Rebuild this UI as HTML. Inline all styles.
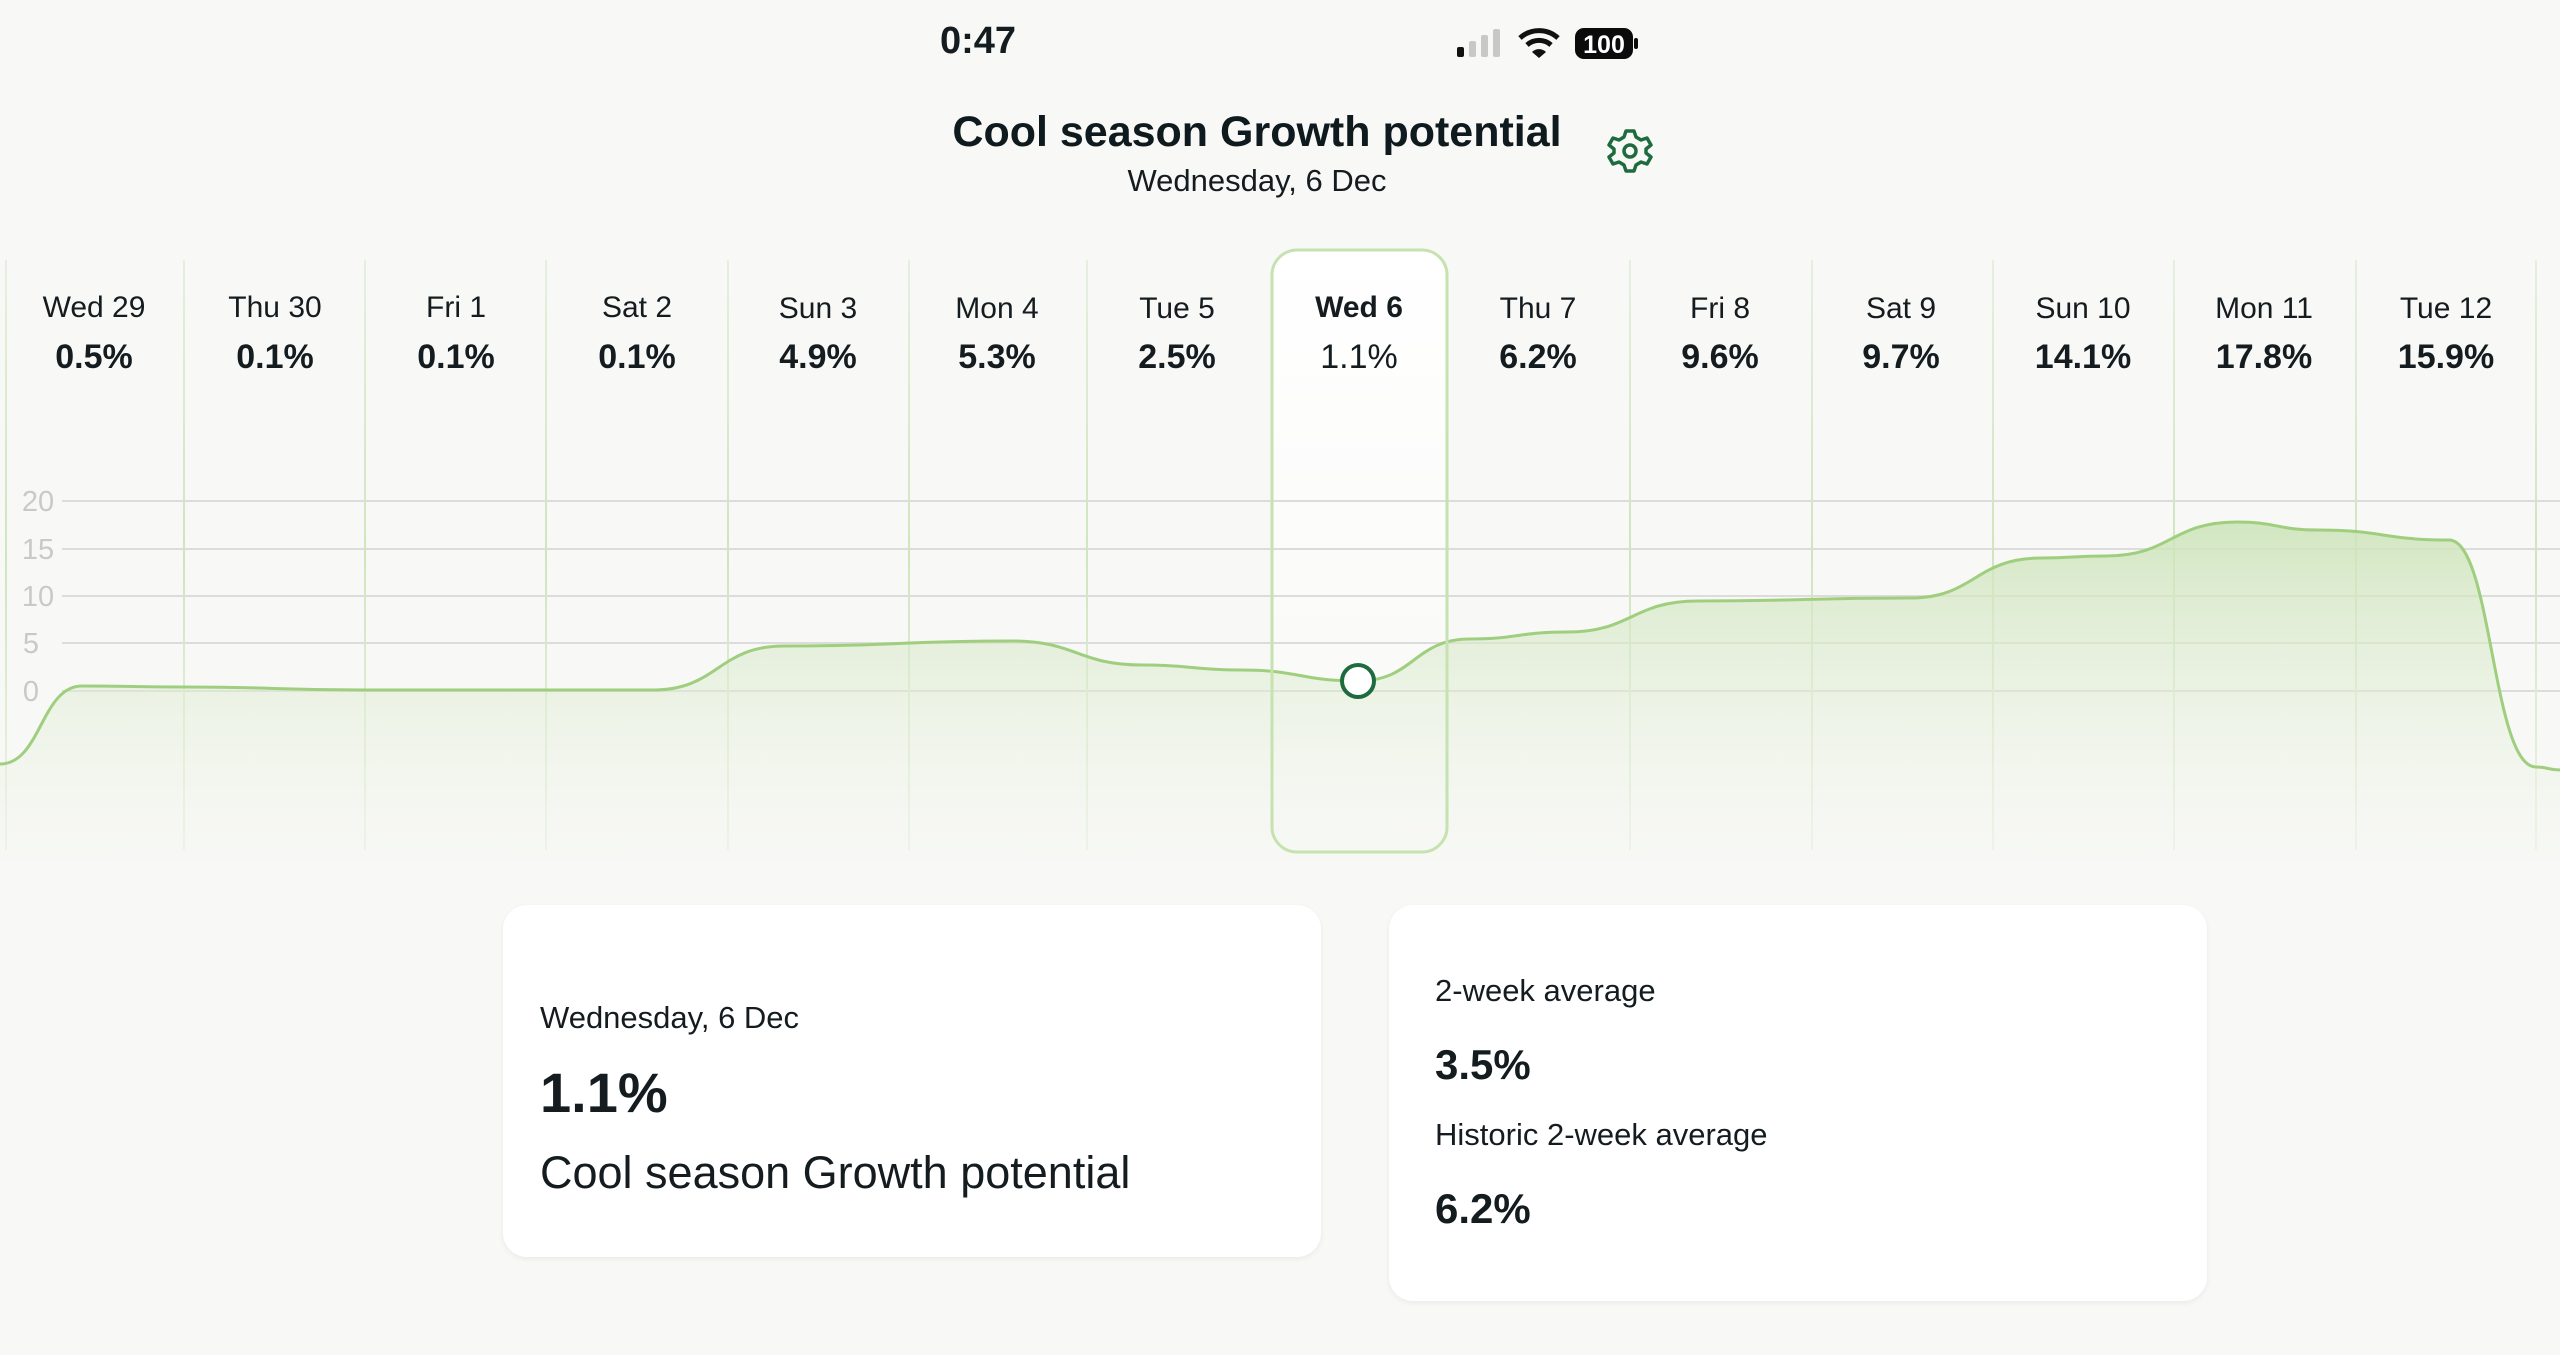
<!DOCTYPE html>
<html><head><meta charset="utf-8">
<style>
html,body{margin:0;padding:0;}
body{width:2560px;height:1355px;background:#f8f8f6;position:relative;overflow:hidden;font-family:"Liberation Sans",sans-serif;color:#141c20;}
.a{position:absolute;white-space:nowrap;}
.c{transform:translateX(-50%);text-align:center;}
.card{position:absolute;background:#fff;border-radius:24px;box-shadow:0 2px 6px rgba(0,0,0,0.06);}
</style></head><body>
<div class="a c" style="left:978px;top:20px;font-size:38px;font-weight:bold;">0:47</div>
<svg class="a" style="left:1450px;top:20px" width="200" height="50" viewBox="1450 20 200 50">
  <rect x="1457" y="47" width="7" height="10" rx="2" fill="#111"/>
  <rect x="1469" y="41" width="7" height="16" rx="2" fill="#c8c8c8"/>
  <rect x="1481" y="35" width="7" height="22" rx="2" fill="#c8c8c8"/>
  <rect x="1493" y="29" width="7" height="28" rx="2" fill="#c8c8c8"/>
  <path d="M1520,38 A28,28 0 0 1 1558,38" stroke="#111" stroke-width="5" fill="none"/>
  <path d="M1527,45 A18,18 0 0 1 1551,45" stroke="#111" stroke-width="5" fill="none"/>
  <path d="M1532,52 L1539,58 L1546,52 A10,10 0 0 0 1532,52Z" fill="#111"/>
  <rect x="1575" y="28" width="58" height="31" rx="9" fill="#0b0b0b"/>
  <rect x="1634" y="38" width="4" height="11" rx="2" fill="#0b0b0b"/>
  <text x="1604" y="53" text-anchor="middle" font-family="Liberation Sans" font-weight="bold" font-size="25" fill="#fff">100</text>
</svg>
<div class="a c" style="left:1257px;top:108px;font-size:43px;font-weight:bold;color:#0f1a1e;">Cool season Growth potential</div>
<div class="a c" style="left:1257px;top:163px;font-size:31px;">Wednesday, 6 Dec</div>
<svg class="a" style="left:1605px;top:126px" width="50" height="50" viewBox="-25 -25 50 50">
  <path d="M-4,-20 L4,-20 L6,-14 L11,-11 L17,-13 L21,-6 L16,-2 L16,2 L21,6 L17,13 L11,11 L6,14 L4,20 L-4,20 L-6,14 L-11,11 L-17,13 L-21,6 L-16,2 L-16,-2 L-21,-6 L-17,-13 L-11,-11 L-6,-14 Z" fill="none" stroke="#1d6b3e" stroke-width="3.5" stroke-linejoin="round"/>
  <circle r="6" fill="none" stroke="#1d6b3e" stroke-width="3.5"/>
</svg>

<svg class="a" style="left:0;top:0" width="2560" height="1355">
  <defs>
    <linearGradient id="fill" x1="0" y1="500" x2="0" y2="860" gradientUnits="userSpaceOnUse">
      <stop offset="0" stop-color="#c9e2b4" stop-opacity="0.9"/>
      <stop offset="1" stop-color="#eef5e8" stop-opacity="0.1"/>
    </linearGradient>
    <linearGradient id="box" x1="0" y1="250" x2="0" y2="852" gradientUnits="userSpaceOnUse">
      <stop offset="0" stop-color="#ffffff"/>
      <stop offset="0.4" stop-color="#fcfcfb"/>
      <stop offset="1" stop-color="#f8f8f6"/>
    </linearGradient>
    <linearGradient id="vl" x1="0" y1="250" x2="0" y2="860" gradientUnits="userSpaceOnUse">
      <stop offset="0" stop-color="#e6efe0"/>
      <stop offset="0.5" stop-color="#cfe5bf"/>
      <stop offset="1" stop-color="#eef3ea"/>
    </linearGradient>
  </defs>
  <rect x="1272" y="250" width="175" height="602" rx="25" fill="url(#box)"/>
  <g stroke="#dcdcdc" stroke-width="2">
    <line x1="62" y1="501" x2="2560" y2="501"/>
    <line x1="62" y1="549" x2="2560" y2="549"/>
    <line x1="62" y1="596" x2="2560" y2="596"/>
    <line x1="62" y1="643" x2="2560" y2="643"/>
    <line x1="62" y1="691" x2="2560" y2="691"/>
  </g>
  <g stroke="url(#vl)" stroke-width="2">
    <line x1="6" y1="260" x2="6" y2="850"/>
    <line x1="184" y1="260" x2="184" y2="850"/>
    <line x1="365" y1="260" x2="365" y2="850"/>
    <line x1="546" y1="260" x2="546" y2="850"/>
    <line x1="728" y1="260" x2="728" y2="850"/>
    <line x1="909" y1="260" x2="909" y2="850"/>
    <line x1="1087" y1="260" x2="1087" y2="850"/>
    <line x1="1630" y1="260" x2="1630" y2="850"/>
    <line x1="1812" y1="260" x2="1812" y2="850"/>
    <line x1="1993" y1="260" x2="1993" y2="850"/>
    <line x1="2174" y1="260" x2="2174" y2="850"/>
    <line x1="2356" y1="260" x2="2356" y2="850"/>
    <line x1="2536" y1="260" x2="2536" y2="850"/>
  </g>
  <g font-family="Liberation Sans" font-size="29" fill="#c9c9c9" text-anchor="middle">
    <text x="38" y="511">20</text><text x="38" y="559">15</text><text x="38" y="606">10</text>
    <text x="31" y="653">5</text><text x="31" y="701">0</text>
  </g>
  <path d="M0,764 C41,764 41,686 82,686 C133,686 133,687 184,687 C274,687 274,690 364,690 C508,690 508,690 653,690 C718,690 718,646 784,646 C898,646 898,641 1012,641 C1077,641 1077,665 1143,665 C1192,665 1192,670 1241,670 C1300,670 1300,681 1358,681 C1414,681 1414,639 1470,639 C1518,639 1518,632 1567,632 C1632,632 1632,601 1698,601 C1804,601 1804,598 1910,598 C1975,598 1975,558 2041,558 C2073,558 2073,556 2106,556 C2171,556 2171,522 2237,522 C2277,522 2277,530 2318,530 C2383,530 2383,540 2449,540 C2492,540 2492,767 2536,767 C2548,767 2548,770 2560,770 L2560,860 L0,860 Z" fill="url(#fill)"/>
  <path d="M0,764 C41,764 41,686 82,686 C133,686 133,687 184,687 C274,687 274,690 364,690 C508,690 508,690 653,690 C718,690 718,646 784,646 C898,646 898,641 1012,641 C1077,641 1077,665 1143,665 C1192,665 1192,670 1241,670 C1300,670 1300,681 1358,681 C1414,681 1414,639 1470,639 C1518,639 1518,632 1567,632 C1632,632 1632,601 1698,601 C1804,601 1804,598 1910,598 C1975,598 1975,558 2041,558 C2073,558 2073,556 2106,556 C2171,556 2171,522 2237,522 C2277,522 2277,530 2318,530 C2383,530 2383,540 2449,540 C2492,540 2492,767 2536,767 C2548,767 2548,770 2560,770" fill="none" stroke="#9fcf7e" stroke-width="3"/>
  <rect x="1272" y="250" width="175" height="602" rx="25" fill="none" stroke="#c5e2b0" stroke-width="3"/>
  <circle cx="1358" cy="681" r="16" fill="#fff" stroke="#1d6b3e" stroke-width="4"/>
  <g font-family="Liberation Sans" text-anchor="middle" fill="#141c20">
    <g font-size="30">
      <text x="94" y="317">Wed 29</text><text x="275" y="317">Thu 30</text><text x="456" y="317">Fri 1</text>
      <text x="637" y="317">Sat 2</text><text x="818" y="318">Sun 3</text><text x="997" y="318">Mon 4</text>
      <text x="1177" y="318">Tue 5</text><text x="1359" y="317" font-weight="bold">Wed 6</text>
      <text x="1538" y="318">Thu 7</text><text x="1720" y="318">Fri 8</text><text x="1901" y="318">Sat 9</text>
      <text x="2083" y="318">Sun 10</text><text x="2264" y="318">Mon 11</text><text x="2446" y="318">Tue 12</text>
    </g>
    <g font-size="34" font-weight="bold">
      <text x="94" y="368">0.5%</text><text x="275" y="368">0.1%</text><text x="456" y="368">0.1%</text>
      <text x="637" y="368">0.1%</text><text x="818" y="368">4.9%</text><text x="997" y="368">5.3%</text>
      <text x="1177" y="368">2.5%</text><text x="1359" y="368" font-weight="normal">1.1%</text>
      <text x="1538" y="368">6.2%</text><text x="1720" y="368">9.6%</text><text x="1901" y="368">9.7%</text>
      <text x="2083" y="368">14.1%</text><text x="2264" y="368">17.8%</text><text x="2446" y="368">15.9%</text>
    </g>
  </g>
</svg>

<div class="card" style="left:503px;top:905px;width:818px;height:352px;">
  <div class="a" style="left:37px;top:95px;font-size:31px;">Wednesday, 6 Dec</div>
  <div class="a" style="left:37px;top:155px;font-size:56px;font-weight:bold;">1.1%</div>
  <div class="a" style="left:37px;top:242px;font-size:45px;">Cool season Growth potential</div>
</div>
<div class="card" style="left:1389px;top:905px;width:818px;height:396px;">
  <div class="a" style="left:46px;top:68px;font-size:31px;">2-week average</div>
  <div class="a" style="left:46px;top:136px;font-size:42px;font-weight:bold;">3.5%</div>
  <div class="a" style="left:46px;top:212px;font-size:31px;">Historic 2-week average</div>
  <div class="a" style="left:46px;top:280px;font-size:42px;font-weight:bold;">6.2%</div>
</div>
</body></html>
